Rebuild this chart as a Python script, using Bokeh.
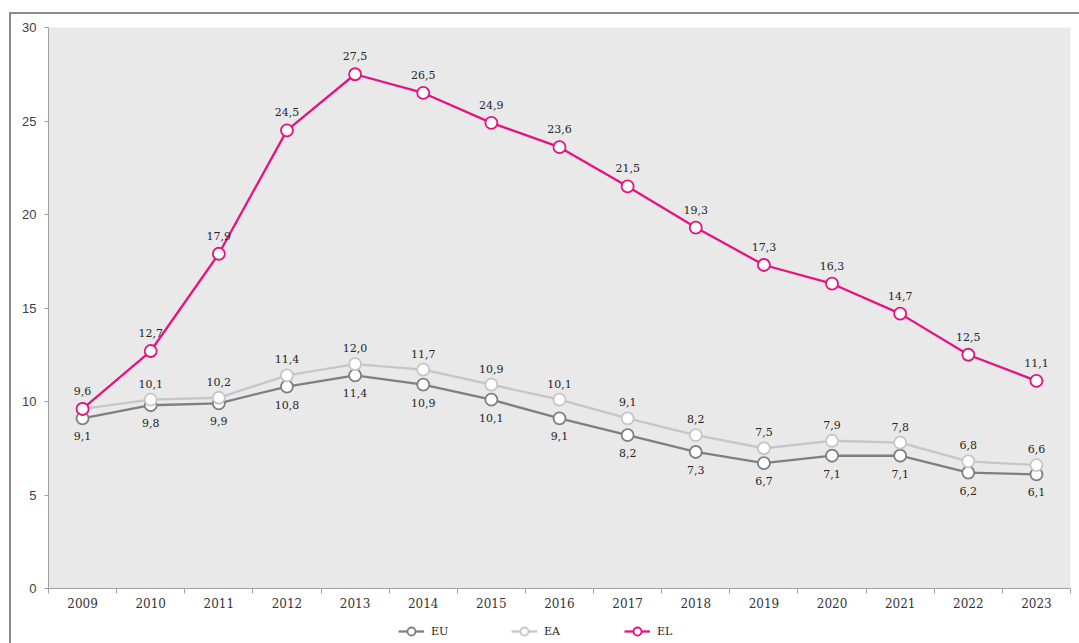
from bokeh.plotting import figure
from bokeh.layouts import column
from bokeh.models import Range1d, FixedTicker, Legend, LegendItem, ColumnDataSource
from bokeh.core.properties import value
from bokeh.embed import file_html
from bokeh.resources import INLINE

years = [2009, 2010, 2011, 2012, 2013, 2014, 2015, 2016, 2017, 2018, 2019, 2020, 2021, 2022, 2023]
eu = [9.1, 9.8, 9.9, 10.8, 11.4, 10.9, 10.1, 9.1, 8.2, 7.3, 6.7, 7.1, 7.1, 6.2, 6.1]
ea = [9.6, 10.1, 10.2, 11.4, 12.0, 11.7, 10.9, 10.1, 9.1, 8.2, 7.5, 7.9, 7.8, 6.8, 6.6]
el = [9.6, 12.7, 17.9, 24.5, 27.5, 26.5, 24.9, 23.6, 21.5, 19.3, 17.3, 16.3, 14.7, 12.5, 11.1]
y_ticks = [0, 5, 10, 15, 20, 25, 30]
series_names = ["EU", "EA", "EL"]

EU_C = "#7f7f7f"
EA_C = "#c6c6c6"
EL_C = "#e6127f"
SERIF = "DejaVu Serif"


def fmt(v):
    return f"{v:.1f}".replace(".", ",")


p = figure(width=1068, height=598, output_backend="svg", toolbar_location=None,
           x_range=Range1d(years[0] - 0.5, years[-1] + 0.5), y_range=Range1d(0, 30),
           min_border_left=37, min_border_right=9, min_border_top=13, min_border_bottom=24,
           background_fill_color="#e9e9e9", border_fill_color="white", outline_line_color=None)

p.grid.visible = False

# x axis
p.xaxis.ticker = FixedTicker(ticks=years, minor_ticks=[y - 0.5 for y in years] + [years[-1] + 0.5])
p.xaxis.major_label_overrides = {y: str(y) for y in years}
p.xaxis.major_tick_line_color = None
p.xaxis.major_tick_out = 5
p.xaxis.minor_tick_out = 5
p.xaxis.minor_tick_in = 0
p.xaxis.minor_tick_line_color = "#a0a0a0"
p.xaxis.axis_line_color = "#a0a0a0"
p.xaxis.major_label_standoff = 4
p.xaxis.major_label_text_font = SERIF
p.xaxis.major_label_text_font_size = "12px"
p.xaxis.major_label_text_color = "#333333"

# y axis
p.yaxis.ticker = FixedTicker(ticks=y_ticks, minor_ticks=[])
p.yaxis.major_tick_out = 4
p.yaxis.major_tick_in = 0
p.yaxis.major_tick_line_color = "#a0a0a0"
p.yaxis.axis_line_color = "#a0a0a0"
p.yaxis.major_label_standoff = 8
p.yaxis.major_label_text_font = "Liberation Sans"
p.yaxis.major_label_text_font_size = "13px"
p.yaxis.major_label_text_color = "#404040"

colors = [EU_C, EA_C, EL_C]
sources = []
for vals, col in zip([eu, ea, el], colors):
    src = ColumnDataSource(dict(x=years, y=vals))
    sources.append(src)
    p.line("x", "y", source=src, line_color=col, line_width=2.3)
    p.scatter("x", "y", source=src, size=12, fill_color="white", line_color=col, line_width=1.8)

# data labels
lab_eu = ColumnDataSource(dict(x=years, y=eu, t=[fmt(v) for v in eu]))
lab_ea = ColumnDataSource(dict(x=years[1:], y=ea[1:], t=[fmt(v) for v in ea[1:]]))
lab_el = ColumnDataSource(dict(x=years, y=el, t=[fmt(v) for v in el]))
common = dict(text="t", text_align="center", text_baseline="middle", text_font=value(SERIF),
              text_font_size="11px", text_color="#262626")
p.text("x", "y", source=lab_eu, y_offset=18, **common)
p.text("x", "y", source=lab_ea, y_offset=-16, **common)
p.text("x", "y", source=lab_el, y_offset=-18, **common)

# legend strip below the chart (its renderers lie outside the strip's visible range)
q = figure(width=1068, height=31, output_backend="svg", toolbar_location=None,
           x_range=Range1d(0, 1), y_range=Range1d(0, 1),
           x_axis_location=None, y_axis_location=None,
           min_border_left=0, min_border_right=0, min_border_top=0, min_border_bottom=0,
           background_fill_color="white", border_fill_color="white", outline_line_color=None)
q.grid.visible = False
items = []
for name, col, src in zip(series_names, colors, sources):
    ln = q.line("x", "y", source=src, line_color=col, line_width=2.3)
    mk = q.scatter("x", "y", source=src, size=12, fill_color="white", line_color=col, line_width=1.8)
    items.append(LegendItem(label=name, renderers=[ln, mk]))
legend = Legend(items=items, orientation="horizontal", location=(350, 2),
                glyph_width=26, glyph_height=20, label_standoff=7, label_width=50, spacing=30,
                padding=0, margin=0, border_line_color=None, background_fill_alpha=0,
                label_text_font=SERIF, label_text_font_size="11px", label_text_color="#1a1a1a")
q.add_layout(legend, "center")

layout = column(p, q, spacing=0)
layout.styles = {"margin-left": "9px", "margin-top": "12px",
                 "border-left": "2px solid #8c8c8c", "border-top": "2px solid #8c8c8c"}

open("out.html", "w").write(file_html(layout, INLINE))
